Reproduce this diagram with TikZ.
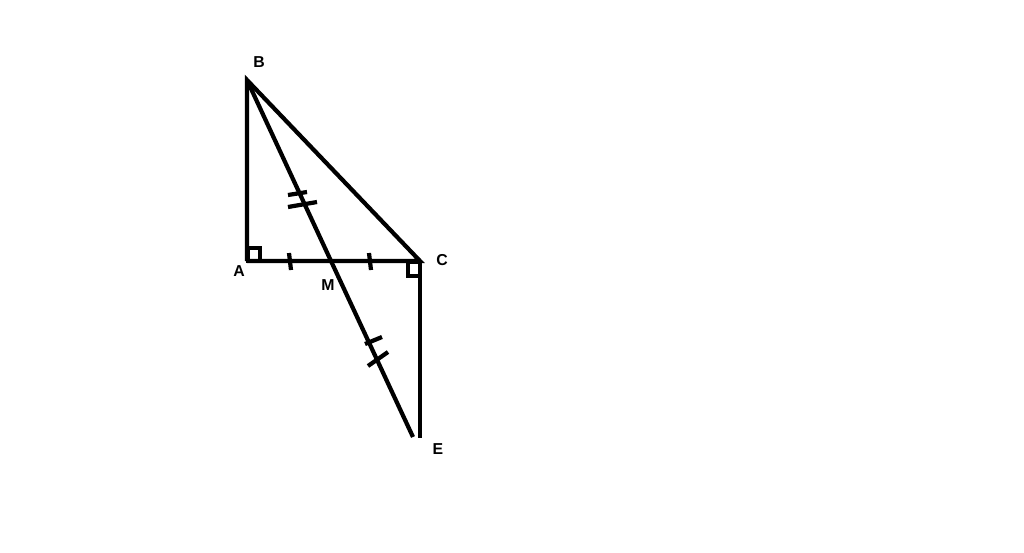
\documentclass[tikz,border=0pt]{standalone}
\usepackage{fontspec}
\setmainfont{Liberation Sans}
\usetikzlibrary{calc}

\begin{document}
\begin{tikzpicture}[x=0.02cm,y=-0.02cm,line width=2.4pt,
		lbl/.style={font=\bfseries\fontsize{9}{11}\selectfont,inner sep=0pt}]
		%%%%% START %%%%%
		\useasboundingbox (0, 0) rectangle (1024, 552);
		
		\coordinate (A) at (247, 261);
		\coordinate (B) at (247, 80);
		\coordinate (C) at (420, 261);
		\coordinate (E) at (420, 438);
		\coordinate (Eend) at (413, 437);
		\coordinate (M) at (331, 261);
		
		% triangle ABC
		\draw (A) -- (B) -- (C) -- (A);
		\draw (C) -- (E);
		\draw (B) -- (M) -- (Eend);
		
		% right angles
		\draw[line width=1.9pt] (248, 261) rectangle (260, 248);
		\draw[line width=1.9pt] (408, 262) rectangle (420, 276);
		
		% single ticks AM = MC
		\draw (289, 253) -- (291, 270);
		\draw (369, 253) -- (371, 270);
		
		% double ticks BM = ME
		\draw (288, 195) -- (307, 192);
		\draw (288, 207) -- (317, 202);
		\draw (365, 344) -- (382, 337);
		\draw (368, 366) -- (388, 352);
		
		% labels
		\node[lbl] (lB) at (259, 62) {B};
		\node[lbl] (lA) at (239, 271) {A};
		\node[lbl] (lC) at (442, 260) {C};
		\node[lbl] (lM) at (328, 285) {M};
		\node[lbl] (lE) at (438, 449) {E};
		%%%%% END %%%%%
\end{tikzpicture}
\end{document}
